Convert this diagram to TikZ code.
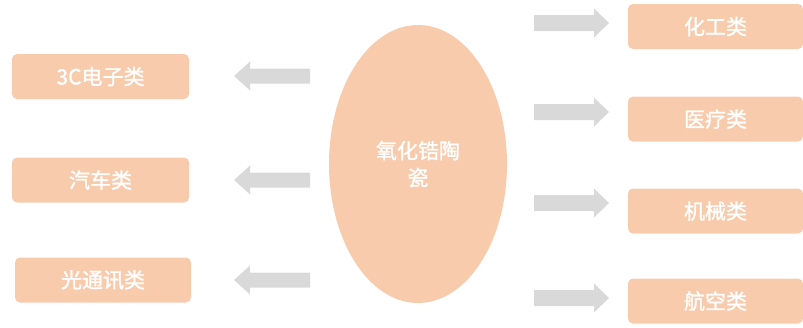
\documentclass[tikz,border=0pt]{standalone}
\usepackage{fontspec}
\setmainfont{Noto Sans CJK SC}[AutoFakeBold=1.2]
\usetikzlibrary{shapes.geometric}
\definecolor{peach}{HTML}{F8CBAD}
\definecolor{arrgray}{HTML}{D9D9D9}
\begin{document}
\begin{tikzpicture}[x=1pt,y=-1pt,
  catbox/.style={fill=peach,draw=none,rounded corners=5pt,text=white,font=\fontsize{21}{26}\selectfont\bfseries,align=center},
  blockarr/.style={fill=arrgray,draw=none}]
\useasboundingbox (0,0) rectangle (803,327);
% left boxes
\node[catbox,minimum width=177pt,minimum height=45pt] (c3) at (100.5,76.5) {3C电子类};
\node[catbox,minimum width=177pt,minimum height=45pt] (car) at (100.5,180) {汽车类};
\node[catbox,minimum width=176pt,minimum height=45pt] (opt) at (103,280) {光通讯类};
% right boxes
\node[catbox,minimum width=175pt,minimum height=45pt] (chem) at (715.5,26.5) {化工类};
\node[catbox,minimum width=175pt,minimum height=45pt] (med) at (715.5,119) {医疗类};
\node[catbox,minimum width=175pt,minimum height=45pt] (mech) at (715.5,211) {机械类};
\node[catbox,minimum width=175pt,minimum height=45pt] (air) at (715.5,301) {航空类};
% centre ellipse
\node[ellipse,fill=peach,draw=none,minimum width=178pt,minimum height=278pt,inner sep=0pt,text=white,font=\fontsize{21}{27}\selectfont\bfseries,align=center] (zr) at (418,164) {氧化锆陶\\瓷};
% left block arrows
\foreach \yy in {76,180,280}{
  \fill[blockarr] (310,\yy-7.5) -- (250,\yy-7.5) -- (250,\yy-14.5) -- (234,\yy) -- (250,\yy+14.5) -- (250,\yy+7.5) -- (310,\yy+7.5) -- cycle;
}
% right block arrows
\foreach \yy in {23,112,203,298}{
  \fill[blockarr] (534,\yy-8) -- (594,\yy-8) -- (594,\yy-14.5) -- (609,\yy) -- (594,\yy+14.5) -- (594,\yy+8) -- (534,\yy+8) -- cycle;
}
\end{tikzpicture}
\end{document}
